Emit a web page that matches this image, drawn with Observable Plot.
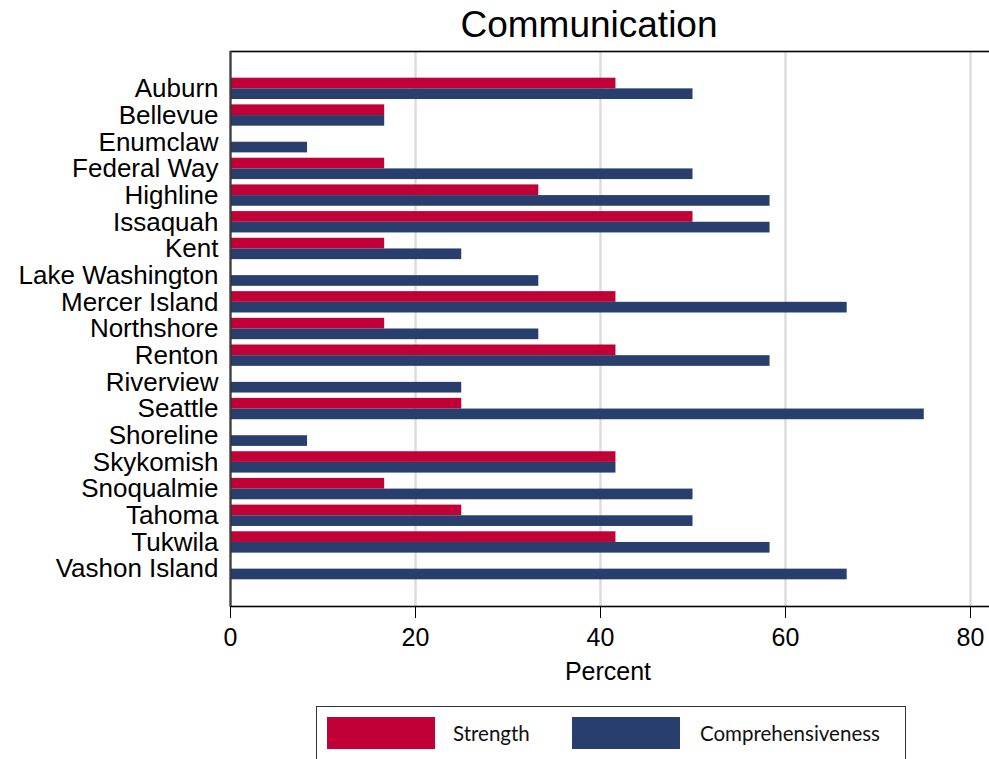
<!DOCTYPE html>
<html>
<head>
<meta charset="utf-8">
<script src="https://cdn.jsdelivr.net/npm/d3@7"></script>
<script src="https://cdn.jsdelivr.net/npm/@observablehq/plot@0.6"></script>
<style>
  html, body { margin: 0; padding: 0; background: #fff; overflow: hidden; width: 989px; height: 759px; }
  #wrap { position: relative; width: 989px; height: 759px; overflow: hidden; font-family: "Liberation Sans", Arial, sans-serif; }
  #chart { position: absolute; left: 0; top: 0; width: 1000px; }
  #chart svg { max-width: none !important; }
  .title { position: absolute; left: 389px; width: 400px; top: 6px; text-align: center; font-size: 37px; line-height: 37px; color: #000; }
  .xlabel { position: absolute; left: 508px; width: 200px; top: 659px; text-align: center; font-size: 25px; line-height: 25px; color: #000; }
  .legend { position: absolute; left: 316px; top: 706px; width: 590px; height: 70px; border: 1.5px solid #333; box-sizing: border-box; font-family: Lato, "Open Sans", sans-serif; font-size: 20.5px; color: #111; }
  .sw { position: absolute; top: 10px; width: 108px; height: 32px; }
  .lt { position: absolute; top: 15px; line-height: 22px; }
</style>
</head>
<body>
<div id="wrap">
  <div id="chart"></div>
  <div class="title">Communication</div>
  <div class="xlabel">Percent</div>
  <div class="legend" id="legend"></div>
</div>
<script>
const districts = ["Auburn","Bellevue","Enumclaw","Federal Way","Highline","Issaquah","Kent","Lake Washington","Mercer Island","Northshore","Renton","Riverview","Seattle","Shoreline","Skykomish","Snoqualmie","Tahoma","Tukwila","Vashon Island"];
const strength = [41.67,16.67,0,16.67,33.33,50,16.67,0,41.67,16.67,41.67,0,25,0,41.67,16.67,25,41.67,0];
const comprehensiveness = [50,16.67,8.33,50,58.33,58.33,25,33.33,66.67,33.33,58.33,25,75,8.33,41.67,50,50,58.33,66.67];
const seriesNames = ["Strength","Comprehensiveness"];
const seriesColors = ["#c00037","#283f6e"];
const xTicks = [0,20,40,60,80];
const gridTicks = [20,40,60,80];

const strengthData = districts.map((d,i) => ({district: d, value: strength[i]}));
const compData = districts.map((d,i) => ({district: d, value: comprehensiveness[i]}));

const W = 1000, H = 700, mTop = 51, mBottom = 94, mLeft = 230, mRight = 0;
const padIn = 0.2, padOut = 1.0;
const step = (H - mTop - mBottom) / (districts.length - padIn + 2 * padOut);
const half = step * (1 - padIn) / 2;

const chart = Plot.plot({
  width: W,
  height: H,
  marginTop: mTop,
  marginBottom: mBottom,
  marginLeft: mLeft,
  marginRight: mRight,
  style: {fontFamily: "'Liberation Sans', Arial, sans-serif", fontSize: "26px", color: "#000", background: "transparent", overflow: "visible", maxWidth: "none"},
  x: {domain: [0, (W - mLeft) / 9.25], ticks: xTicks, tickSize: 12, tickPadding: 10, label: null, tickFormat: d => String(d)},
  y: {type: "band", domain: districts, paddingInner: padIn, paddingOuter: padOut, round: false, align: 0.5, tickSize: 0, tickPadding: 12, label: null},
  marks: [
    Plot.ruleX(gridTicks, {stroke: "#dcdcdc", strokeWidth: 2.5}),
    Plot.barX(strengthData, {x: "value", y: "district", fill: seriesColors[0], insetBottom: half}),
    Plot.barX(compData, {x: "value", y: "district", fill: seriesColors[1], insetTop: half}),
    Plot.frame({stroke: "#000", strokeWidth: 1.6}),
    Plot.ruleX([0], {stroke: "#404040", strokeWidth: 2})
  ]
});
chart.style.maxWidth = "none";
chart.querySelectorAll("g[aria-label='x-axis tick label']").forEach(e => e.style.fontSize = "25px");
document.getElementById("chart").appendChild(chart);

const legend = document.getElementById("legend");
const swLeft = [10, 255];
const txtLeft = [136, 383];
seriesNames.forEach((name, i) => {
  const sw = document.createElement("div");
  sw.className = "sw";
  sw.style.left = swLeft[i] + "px";
  sw.style.background = seriesColors[i];
  legend.appendChild(sw);
  const t = document.createElement("div");
  t.className = "lt";
  t.style.left = txtLeft[i] + "px";
  t.textContent = name;
  legend.appendChild(t);
});
</script>
</body>
</html>
